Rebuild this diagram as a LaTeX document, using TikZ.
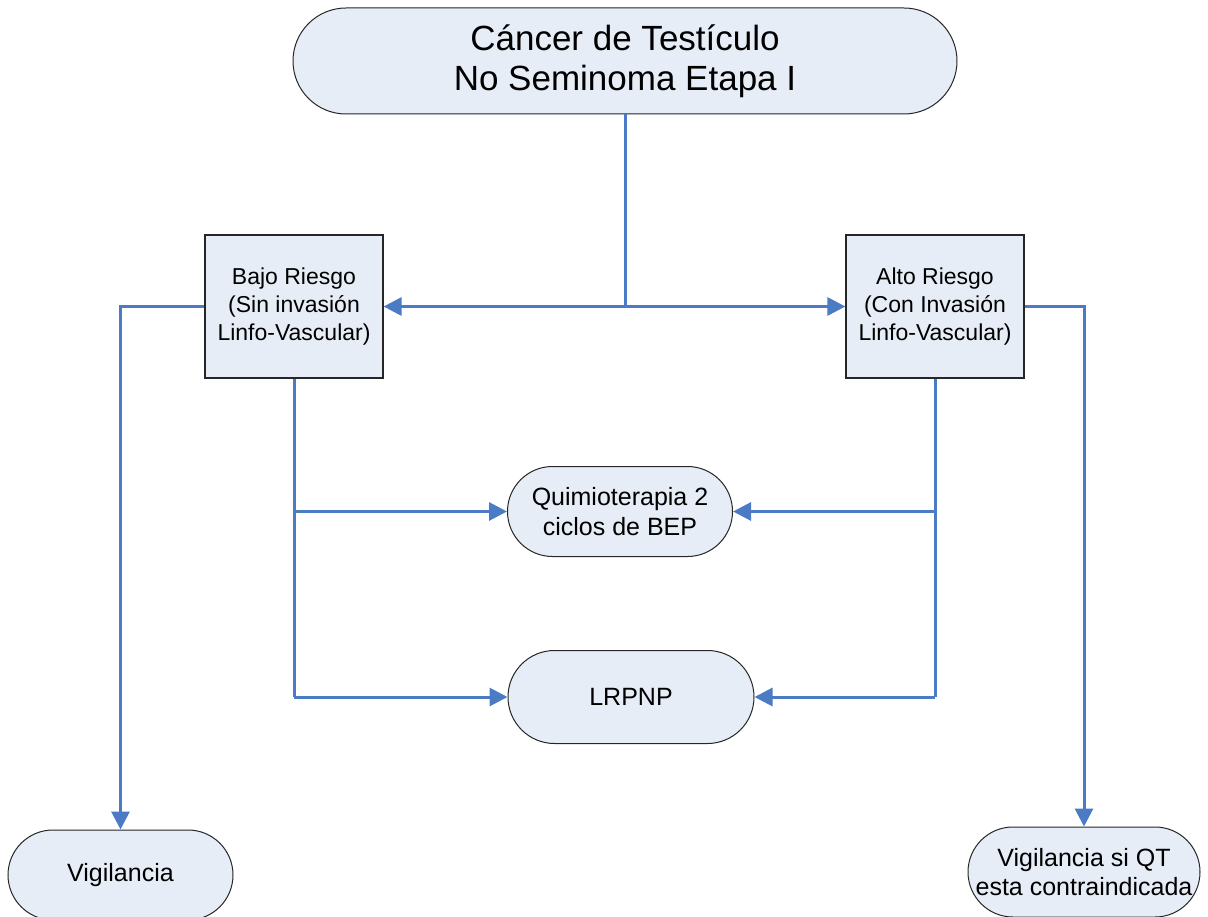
\documentclass[tikz,border=0pt]{standalone}
\usepackage{fontspec}
\setmainfont{Liberation Sans}
\usetikzlibrary{arrows.meta}
\definecolor{linkblue}{HTML}{4A7BC4}
\definecolor{nodefill}{HTML}{E7EDF7}
\tikzset{
  stadium/.style={draw=black!85, line width=1pt, fill=nodefill, align=center, inner sep=0pt},
  riskbox/.style={draw=black!85, line width=1.2pt, fill=nodefill, align=center, inner sep=0pt,
     minimum width=178pt, minimum height=143pt, font=\fontsize{23}{28}\selectfont},
  link/.style={draw=linkblue, line width=3pt, -{Triangle[length=18pt,width=18pt]}},
  plain/.style={draw=linkblue, line width=3pt}
}
\begin{document}
\begin{tikzpicture}[x=1pt,y=-1pt]
\useasboundingbox (0,0) rectangle (1208,917);
\node[stadium, minimum width=664pt, minimum height=106pt, rounded corners=53pt,
      font=\fontsize{35}{40}\selectfont] (t) at (625,61) {Cáncer de Testículo\\No Seminoma Etapa I};
\node[riskbox] (b) at (294,306.5) {Bajo Riesgo\\(Sin invasión\\Linfo-Vascular)};
\node[riskbox] (a) at (935,306.5) {Alto Riesgo\\(Con Invasión\\Linfo-Vascular)};
\node[stadium, minimum width=225pt, minimum height=90pt, rounded corners=45pt,
      font=\fontsize{25}{30}\selectfont] (q) at (620,511.5) {Quimioterapia 2\\ciclos de BEP};
\node[stadium, minimum width=246pt, minimum height=93pt, rounded corners=46.5pt,
      font=\fontsize{25}{30}\selectfont] (l) at (631,697) {LRPNP};
\node[stadium, minimum width=225pt, minimum height=90pt, rounded corners=45pt,
      font=\fontsize{25}{30}\selectfont] (v) at (120.5,875) {Vigilancia};
\node[stadium, minimum width=232pt, minimum height=90pt, rounded corners=45pt,
      font=\fontsize{25}{29}\selectfont] (r) at (1084,872) {Vigilancia si QT\\esta contraindicada};
% top split
\coordinate (j) at (t.south |- b.east);
\draw[plain] (t.south) -- (j);
\draw[link] (j) -- (b.east);
\draw[link] (j) -- (a.west);
% side branches
\draw[link] (b.west) -| (v.north);
\draw[link] (a.east) -| (r.north);
% bottom branches
\draw[plain] (b.south) -- (b.south |- l.west);
\draw[link] (b.south |- q.west) -- (q.west);
\draw[link] (b.south |- l.west) -- (l.west);
\draw[plain] (a.south) -- (a.south |- l.east);
\draw[link] (a.south |- q.east) -- (q.east);
\draw[link] (a.south |- l.east) -- (l.east);
\end{tikzpicture}
\end{document}
